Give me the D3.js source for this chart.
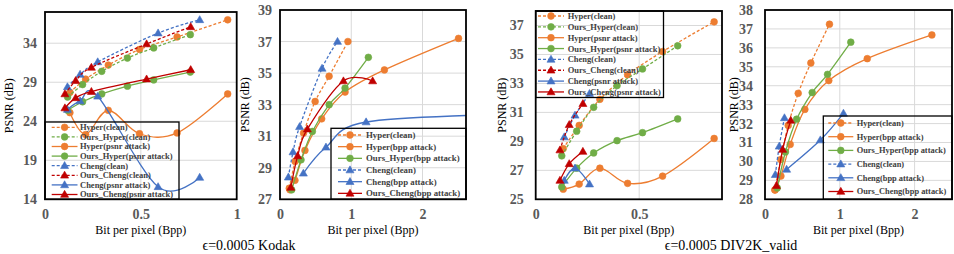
<!DOCTYPE html>
<html>
<head>
<meta charset="utf-8">
<script src="https://cdn.jsdelivr.net/npm/d3@7.9.0/dist/d3.min.js"></script>
<style>
  body { margin: 0; background: #fff; }
  svg { display: block; }
  svg text { font-family: "Liberation Serif", "Tinos", "DejaVu Serif", "Times New Roman", serif !important; }
</style>
</head>
<body>
<svg id="chart" width="954" height="254"></svg>
<script>
// ---- legend labels / captions ----
const psnrLabels = ['Hyper(clean)', 'Ours_Hyper(clean)', 'Hyper(psnr attack)', 'Ours_Hyper(psnr attack)',
  'Cheng(clean)', 'Ours_Cheng(clean)', 'Cheng(psnr attack)', 'Ours_Cheng(psnr attack)'];
const bppLabels = ['Hyper(clean)', 'Hyper(bpp attack)', 'Ours_Hyper(bpp attack)',
  'Cheng(clean)', 'Cheng(bpp attack)', 'Ours_Cheng(bpp attack)'];
const captions = ['ϵ=0.0005 Kodak', 'ϵ=0.0005 DIV2K_valid'];

// ---- Kodak ----
const kHyperBpp = [0.13, 0.212, 0.33, 0.493, 0.689, 0.953];
const kHyperClean = [27.7, 29.4, 31.2, 33.2, 34.8, 37.0];
const kHyperPsnrAtk = [25.1, 22.3, 25.4, 22.4, 22.5, 27.5];
const kOursHyperBpp = [0.118, 0.196, 0.296, 0.43, 0.567, 0.758];
const kOursHyperClean = [27.1, 28.7, 30.4, 32.1, 33.4, 35.1];
const kOursHyperPsnrAtk = [25.4, 26.5, 27.5, 28.5, 29.3, 30.3];
const kChengBpp = [0.117, 0.183, 0.275, 0.59, 0.807];
const kChengClean = [28.4, 30.0, 31.6, 35.3, 37.0];
const kChengPsnrAtk = [25.5, 26.6, 27.2, 15.6, 16.8];
const kOursChengBpp = [0.104, 0.16, 0.242, 0.53, 0.76];
const kOursChengClean = [27.5, 29.2, 30.9, 33.9, 36.1];
const kOursChengPsnrAtk = [25.7, 27.0, 27.8, 29.4, 30.6];

const kHyperBppAtkX = [0.14, 0.21, 0.35, 0.585, 0.913, 1.465, 2.505];
const kHyperBppAtkY = [27.6, 28.2, 30.1, 32.1, 33.8, 35.2, 37.2];
const kOursHyperBppAtkX = [0.164, 0.295, 0.454, 0.69, 0.913, 1.24];
const kOursHyperBppAtkY = [27.6, 29.5, 31.3, 33.0, 34.05, 36.0];
const kChengBppAtkX = [0.328, 0.645, 1.208, 3.3];
const kChengBppAtkY = [28.65, 30.3, 31.9, 32.4];
const kOursChengBppAtkX = [0.152, 0.248, 0.384, 0.89, 1.30];
const kOursChengBppAtkY = [27.75, 29.75, 31.45, 34.5, 34.5];

// ---- DIV2K ----
const dHyperBpp = [0.133, 0.21, 0.31, 0.444, 0.613, 0.862];
const dHyperClean = [28.5, 30.1, 31.9, 33.6, 35.2, 37.25];
const dHyperPsnrAtk = [25.7, 26.05, 27.15, 26.1, 26.6, 29.2];
const dOursHyperBpp = [0.126, 0.198, 0.28, 0.393, 0.516, 0.686];
const dOursHyperClean = [28.0, 29.7, 31.35, 32.85, 34.0, 35.6];
const dOursHyperPsnrAtk = [25.85, 27.15, 28.2, 29.05, 29.6, 30.55];
const dChengBpp = [0.138, 0.19, 0.26];
const dChengClean = [29.3, 30.8, 32.3];
const dChengPsnrAtk = [26.3, 27.15, 26.05];
const dOursChengBpp = [0.117, 0.162, 0.228];
const dOursChengClean = [28.4, 30.15, 31.6];
const dOursChengPsnrAtk = [26.3, 27.45, 28.3];

const dHyperBppAtkX = [0.133, 0.213, 0.337, 0.533, 0.853, 1.367, 2.231];
const dHyperBppAtkY = [28.49, 29.23, 30.9, 32.75, 34.27, 35.43, 36.68];
const dOursHyperBppAtkX = [0.164, 0.273, 0.423, 0.631, 0.836, 1.147];
const dOursHyperBppAtkY = [28.6, 30.5, 32.23, 33.64, 34.6, 36.3];
const dChengBppAtkX = [0.289, 0.74, 1.049];
const dChengBppAtkY = [29.58, 31.13, 32.54];
const dOursChengBppAtkX = [0.153, 0.236, 0.344];
const dOursChengBppAtkY = [28.72, 30.63, 32.17];

const styles = {
  hyperClean:     { color: '#ED7D31', dash: true,  shape: 'circle' },
  oursHyperClean: { color: '#70AD47', dash: true,  shape: 'circle' },
  hyperAtk:       { color: '#ED7D31', dash: false, shape: 'circle' },
  oursHyperAtk:   { color: '#70AD47', dash: false, shape: 'circle' },
  chengClean:     { color: '#4472C4', dash: true,  shape: 'triangle' },
  oursChengClean: { color: '#C00000', dash: true,  shape: 'triangle' },
  chengAtk:       { color: '#4472C4', dash: false, shape: 'triangle' },
  oursChengAtk:   { color: '#C00000', dash: false, shape: 'triangle' },
};
const psnrKeys = ['hyperClean', 'oursHyperClean', 'hyperAtk', 'oursHyperAtk',
  'chengClean', 'oursChengClean', 'chengAtk', 'oursChengAtk'];
const bppKeys = ['hyperClean', 'hyperAtk', 'oursHyperAtk', 'chengClean', 'chengAtk', 'oursChengAtk'];

const zip = (xs, ys) => xs.map((v, i) => [v, ys[i]]);

const panels = [
  {
    left: 45, right: 236.7, top: 12, bottom: 199.3,
    xDomain: [0, 1], yDomain: [14, 38], xTicks: [0, 0.5, 1], yTicks: [14, 19, 24, 29, 34],
    yPad: 8, titleX: 9,
    series: {
      hyperClean: zip(kHyperBpp, kHyperClean),
      oursHyperClean: zip(kOursHyperBpp, kOursHyperClean),
      hyperAtk: zip(kHyperBpp, kHyperPsnrAtk),
      oursHyperAtk: zip(kOursHyperBpp, kOursHyperPsnrAtk),
      chengClean: zip(kChengBpp, kChengClean),
      oursChengClean: zip(kOursChengBpp, kOursChengClean),
      chengAtk: zip(kChengBpp, kChengPsnrAtk),
      oursChengAtk: zip(kOursChengBpp, kOursChengPsnrAtk),
    },
    keys: psnrKeys, labels: psnrLabels,
    legend: { x0: 45, y0: 122, x1: 179, y1: 199.3, row0: 127.3, step: 9.6, l0: 51.7, l1: 77.5, tx: 80, fs: 8.5 },
  },
  {
    left: 280, right: 466, top: 10, bottom: 199.3,
    xDomain: [0, 2.61], yDomain: [27, 39], xTicks: [0, 1, 2], yTicks: [27, 29, 31, 33, 35, 37, 39],
    yPad: 8, titleX: 245,
    series: {
      hyperClean: zip(kHyperBpp, kHyperClean),
      hyperAtk: zip(kHyperBppAtkX, kHyperBppAtkY),
      oursHyperAtk: zip(kOursHyperBppAtkX, kOursHyperBppAtkY),
      chengClean: zip(kChengBpp, kChengClean),
      chengAtk: zip(kChengBppAtkX, kChengBppAtkY),
      oursChengAtk: zip(kOursChengBppAtkX, kOursChengBppAtkY),
    },
    keys: bppKeys, labels: bppLabels,
    legend: { x0: 331, y0: 128.3, x1: 466, y1: 199.3, row0: 135, step: 11.67, l0: 338, l1: 362, tx: 366, fs: 8.8 },
  },
  {
    left: 535.7, right: 722, top: 11, bottom: 199.3,
    xDomain: [0, 0.9], yDomain: [25, 38], xTicks: [0, 0.5], yTicks: [25, 27, 29, 31, 33, 35, 37],
    yPad: 12, titleX: 501.7,
    series: {
      hyperClean: zip(dHyperBpp, dHyperClean),
      oursHyperClean: zip(dOursHyperBpp, dOursHyperClean),
      hyperAtk: zip(dHyperBpp, dHyperPsnrAtk),
      oursHyperAtk: zip(dOursHyperBpp, dOursHyperPsnrAtk),
      chengClean: zip(dChengBpp, dChengClean),
      oursChengClean: zip(dOursChengBpp, dOursChengClean),
      chengAtk: zip(dChengBpp, dChengPsnrAtk),
      oursChengAtk: zip(dOursChengBpp, dOursChengPsnrAtk),
    },
    keys: psnrKeys, labels: psnrLabels,
    legend: { x0: 535.7, y0: 11, x1: 663.5, y1: 97.5, row0: 16, step: 10.85, l0: 538, l1: 564, tx: 567.7, fs: 8.5 },
  },
  {
    left: 765, right: 952, top: 10, bottom: 199.3,
    xDomain: [0, 2.5], yDomain: [28, 38], xTicks: [0, 1, 2], yTicks: d3.range(28, 39),
    yPad: 12, titleX: 733.5,
    series: {
      hyperClean: zip(dHyperBpp, dHyperClean),
      hyperAtk: zip(dHyperBppAtkX, dHyperBppAtkY),
      oursHyperAtk: zip(dOursHyperBppAtkX, dOursHyperBppAtkY),
      chengClean: zip(dChengBpp, dChengClean),
      chengAtk: zip(dChengBppAtkX, dChengBppAtkY),
      oursChengAtk: zip(dOursChengBppAtkX, dOursChengBppAtkY),
    },
    keys: bppKeys, labels: bppLabels,
    legend: { x0: 823.3, y0: 116, x1: 952, y1: 199.3, row0: 123, step: 13.7, l0: 828.3, l1: 853.3, tx: 856.7, fs: 8.4 },
  },
];

const svg = d3.select('#chart');
svg.append('rect').attr('width', 954).attr('height', 254).attr('fill', '#fff');

const circleSym = d3.symbol(d3.symbolCircle, 36);
const triSym = d3.symbol(d3.symbolTriangle, 28);

function drawMarker(g, cx, cy, st) {
  g.append('path')
    .attr('d', st.shape === 'circle' ? circleSym() : triSym())
    .attr('transform', `translate(${cx},${cy + (st.shape === 'triangle' ? 0.5 : 0)})`)
    .attr('fill', st.color)
    .attr('stroke', st.color)
    .attr('stroke-width', 0.6);
}

function drawPanel(p, idx) {
  const g = svg.append('g');
  const x = d3.scaleLinear().domain(p.xDomain).range([p.left, p.right]);
  const y = d3.scaleLinear().domain(p.yDomain).range([p.bottom, p.top]);

  // gridlines
  g.selectAll('line.hg')
    .data(p.yTicks.filter(t => t > p.yDomain[0] && t < p.yDomain[1]))
    .join('line')
    .attr('x1', p.left).attr('x2', p.right)
    .attr('y1', d => y(d)).attr('y2', d => y(d))
    .attr('stroke', '#d9d9d9').attr('stroke-width', 1);
  g.selectAll('line.vg')
    .data(p.xTicks.filter(t => t > p.xDomain[0] && t < p.xDomain[1]))
    .join('line')
    .attr('x1', d => x(d)).attr('x2', d => x(d))
    .attr('y1', p.top).attr('y2', p.bottom)
    .attr('stroke', '#d9d9d9').attr('stroke-width', 1);

  // axes
  const yAxis = g.append('g')
    .attr('transform', `translate(${p.left},0)`)
    .call(d3.axisLeft(y).tickValues(p.yTicks).tickSize(0).tickPadding(p.yPad).tickFormat(d3.format('d')));
  const xAxis = g.append('g')
    .attr('transform', `translate(0,${p.bottom})`)
    .call(d3.axisBottom(x).tickValues(p.xTicks).tickSize(0).tickPadding(10).tickFormat(d => String(d)));
  [xAxis, yAxis].forEach(a => {
    a.attr('font-family', null);
    a.select('.domain').remove();
    a.selectAll('text')
      .attr('fill', '#595959')
      .attr('font-size', 14)
      .attr('font-weight', 'bold');
  });

  // titles
  g.append('text')
    .attr('transform', `translate(${p.titleX},${(p.top + p.bottom) / 2}) rotate(-90)`)
    .attr('text-anchor', 'middle').attr('dy', '0.35em')
    .attr('font-size', 12).attr('fill', '#000')
    .text('PSNR (dB)');
  g.append('text')
    .attr('x', (p.left + p.right) / 2).attr('y', 233.5)
    .attr('text-anchor', 'middle')
    .attr('font-size', 12).attr('fill', '#000')
    .text('Bit per pixel (Bpp)');

  // series
  const clipId = 'clip' + idx;
  svg.append('clipPath').attr('id', clipId)
    .append('rect').attr('x', p.left).attr('y', p.top)
    .attr('width', p.right - p.left).attr('height', p.bottom - p.top);
  const plot = g.append('g').attr('clip-path', `url(#${clipId})`);
  const line = d3.line().x(d => x(d[0])).y(d => y(d[1])).curve(d3.curveCatmullRom.alpha(0));

  p.keys.forEach(k => {
    const st = styles[k];
    const pts = p.series[k];
    plot.append('path')
      .attr('d', line(pts))
      .attr('fill', 'none')
      .attr('stroke', st.color)
      .attr('stroke-width', 1.3)
      .attr('stroke-dasharray', st.dash ? '3,2' : null);
    pts.forEach(d => drawMarker(plot, x(d[0]), y(d[1]), st));
  });

  // frame
  g.append('rect')
    .attr('x', p.left).attr('y', p.top)
    .attr('width', p.right - p.left).attr('height', p.bottom - p.top)
    .attr('fill', 'none').attr('stroke', '#000').attr('stroke-width', 1.8);

  // legend
  const L = p.legend;
  const lg = g.append('g');
  lg.append('rect')
    .attr('x', L.x0).attr('y', L.y0)
    .attr('width', L.x1 - L.x0).attr('height', L.y1 - L.y0)
    .attr('fill', 'none').attr('stroke', '#000').attr('stroke-width', 1.3);
  p.keys.forEach((k, i) => {
    const st = styles[k];
    const cy = L.row0 + i * L.step;
    lg.append('line')
      .attr('x1', L.l0).attr('x2', L.l1).attr('y1', cy).attr('y2', cy)
      .attr('stroke', st.color).attr('stroke-width', 1.3)
      .attr('stroke-dasharray', st.dash ? '3,2' : null);
    drawMarker(lg, (L.l0 + L.l1) / 2, cy, st);
    lg.append('text')
      .attr('x', L.tx).attr('y', cy).attr('dy', '0.35em')
      .attr('font-size', L.fs).attr('font-weight', 'bold').attr('fill', '#404040')
      .text(p.labels[i]);
  });
}

panels.forEach(drawPanel);

// captions
svg.selectAll('text.caption')
  .data(captions)
  .join('text')
  .attr('class', 'caption')
  .attr('x', (d, i) => i === 0 ? 249 : 731)
  .attr('y', 249.5)
  .attr('text-anchor', 'middle')
  .attr('font-size', 14)
  .attr('fill', '#000')
  .text(d => d);
</script>
</body>
</html>
